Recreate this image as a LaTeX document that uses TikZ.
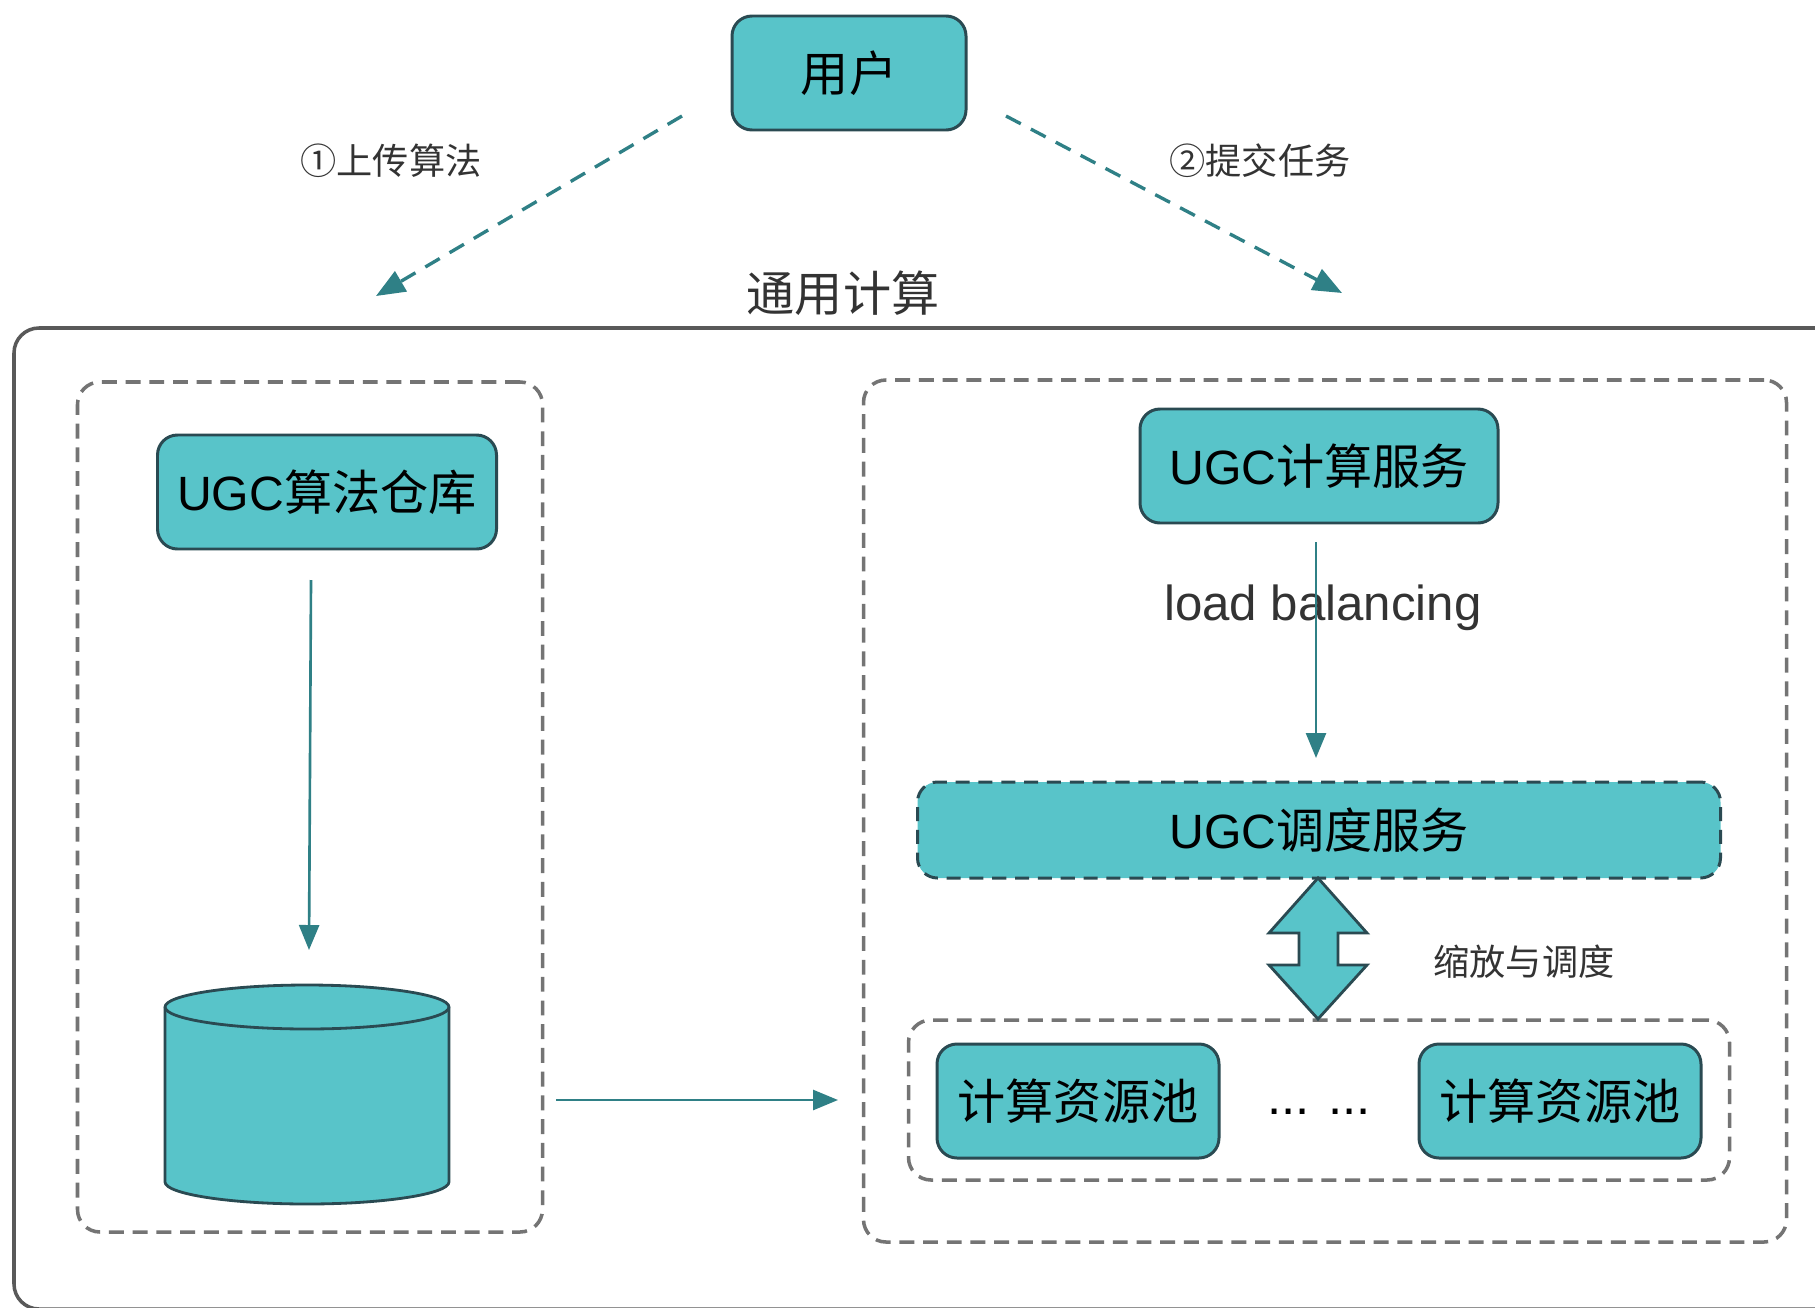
\documentclass[tikz,border=0pt]{standalone}
\usepackage{fontspec}
\setmainfont{Liberation Sans}
\newfontfamily\cjk{Noto Sans CJK SC}
\usetikzlibrary{arrows.meta}
\definecolor{tealfill}{HTML}{58C4C9}
\definecolor{tealline}{HTML}{2F8086}
\definecolor{edgeline}{HTML}{2A4A52}
\definecolor{dashgray}{HTML}{747474}
\tikzset{
  px/.style={x=0.02cm,y=-0.02cm},
  tbox/.style={draw=edgeline,fill=tealfill,line width=1.7pt,rounded corners=0.4cm,align=center,inner sep=0pt},
  dbox/.style={draw=dashgray,line width=2pt,dash pattern=on 8.5pt off 5pt,rounded corners=0.45cm},
  shapeline/.style={draw=edgeline,fill=tealfill,line width=1.6pt,line join=round},
  conn/.style={draw=tealline,line width=1.5pt,-{Triangle[length=0.5cm,width=0.4cm]}},
  dconn/.style={draw=tealline,line width=1.9pt,dash pattern=on 9.5pt off 6.5pt,-{Triangle[length=0.58cm,width=0.46cm]}},
  lbl/.style={text=black!80,inner sep=0pt}
}
\newcommand{\bigt}{\fontsize{27.4}{30}\selectfont}
\newcommand{\smallt}{\fontsize{20.6}{24}\selectfont}
\newcommand{\lowr}[1]{\raisebox{-1.2pt}{#1}}
\begin{document}
\begin{tikzpicture}[px]
\useasboundingbox (0,0) rectangle (1815,1308);
\fill[white] (0,0) rectangle (1815,1308);
% outer
\draw[draw=black!65,line width=2pt,rounded corners=0.5cm] (1817,328) -- (14,328) -- (14,1309) -- (1817,1309);
% dashed groups
\node[dbox,minimum width=465*0.02cm,minimum height=850*0.02cm] (g1) at (310,807) {};
\node[dbox,minimum width=923*0.02cm,minimum height=862*0.02cm] (g2) at (1325,811) {};
\node[dbox,minimum width=821*0.02cm,minimum height=160*0.02cm] (g3) at (1319,1100) {};
% boxes
\node[tbox,minimum width=234*0.02cm,minimum height=114*0.02cm] (user) at (849,73) {\lowr{\cjk\bigt 用户}};
\node[tbox,minimum width=339*0.02cm,minimum height=114*0.02cm] (repo) at (327,492) {\lowr{\bigt UGC{\cjk 算法仓库}}};
\node[tbox,minimum width=358*0.02cm,minimum height=114*0.02cm] (svc) at (1319,466) {\lowr{\bigt UGC{\cjk 计算服务}}};
\node[tbox,dash pattern=on 8pt off 5pt,minimum width=803*0.02cm,minimum height=96*0.02cm] (sch) at (1319,830) {\bigt UGC{\cjk 调度服务}};
\node[tbox,minimum width=282*0.02cm,minimum height=114*0.02cm] (p1) at (1078,1101) {\lowr{\cjk\bigt 计算资源池}};
\node[tbox,minimum width=282*0.02cm,minimum height=114*0.02cm] (p2) at (1560,1101) {\lowr{\cjk\bigt 计算资源池}};
\node[font=\fontsize{29}{30}\selectfont,inner sep=0pt] (dots) at (1319,1112) {... ...};
% cylinder
\draw[shapeline] (165,1007) -- (165,1182) .. controls (165,1194) and (230,1204) .. (307,1204) .. controls (384,1204) and (449,1194) .. (449,1182) -- (449,1007) .. controls (449,995) and (384,985) .. (307,985) .. controls (230,985) and (165,995) .. (165,1007) -- cycle;
\draw[shapeline,fill=none] (165,1007) .. controls (165,1019) and (230,1029) .. (307,1029) .. controls (384,1029) and (449,1019) .. (449,1007);
% labels
\node[lbl,font=\smallt\cjk] (l1) at (391,161) {①上传算法};
\node[lbl,font=\smallt\cjk] (l2) at (1260,161) {②提交任务};
\node[lbl,font=\bigt\cjk] (title) at (843,293) {通用计算};
\node[lbl,font=\fontsize{28}{30}\selectfont] (lb) at (1323,608) {load balancing};
\node[lbl,font=\smallt\cjk] (l3) at (1524,962) {缩放与调度};
% connector anchors
\coordinate (u1) at (682,116);
\coordinate (u1e) at (376,296);
\coordinate (u2) at (1006,116);
\coordinate (u2e) at (1342,293);
\draw[dconn] (u1) -- (u1e);
\draw[dconn] (u2) -- (u2e);
\coordinate (a1) at (311,580);
\coordinate (a1e) at (309,950);
\draw[conn] (a1) -- (a1e);
\coordinate (a2) at (1316,542);
\coordinate (a2e) at (1316,758);
\draw[conn] (a2) -- (a2e);
\coordinate (a3) at (556,1100);
\coordinate (a3e) at (838,1100);
\draw[conn] (a3) -- (a3e);
% double arrow
\draw[shapeline,line join=miter] (1318,878) -- (1367,933) -- (1338,933) -- (1338,965) -- (1367,965) -- (1318,1019) -- (1269,965) -- (1299,965) -- (1299,933) -- (1269,933) -- cycle;
\end{tikzpicture}
\end{document}
